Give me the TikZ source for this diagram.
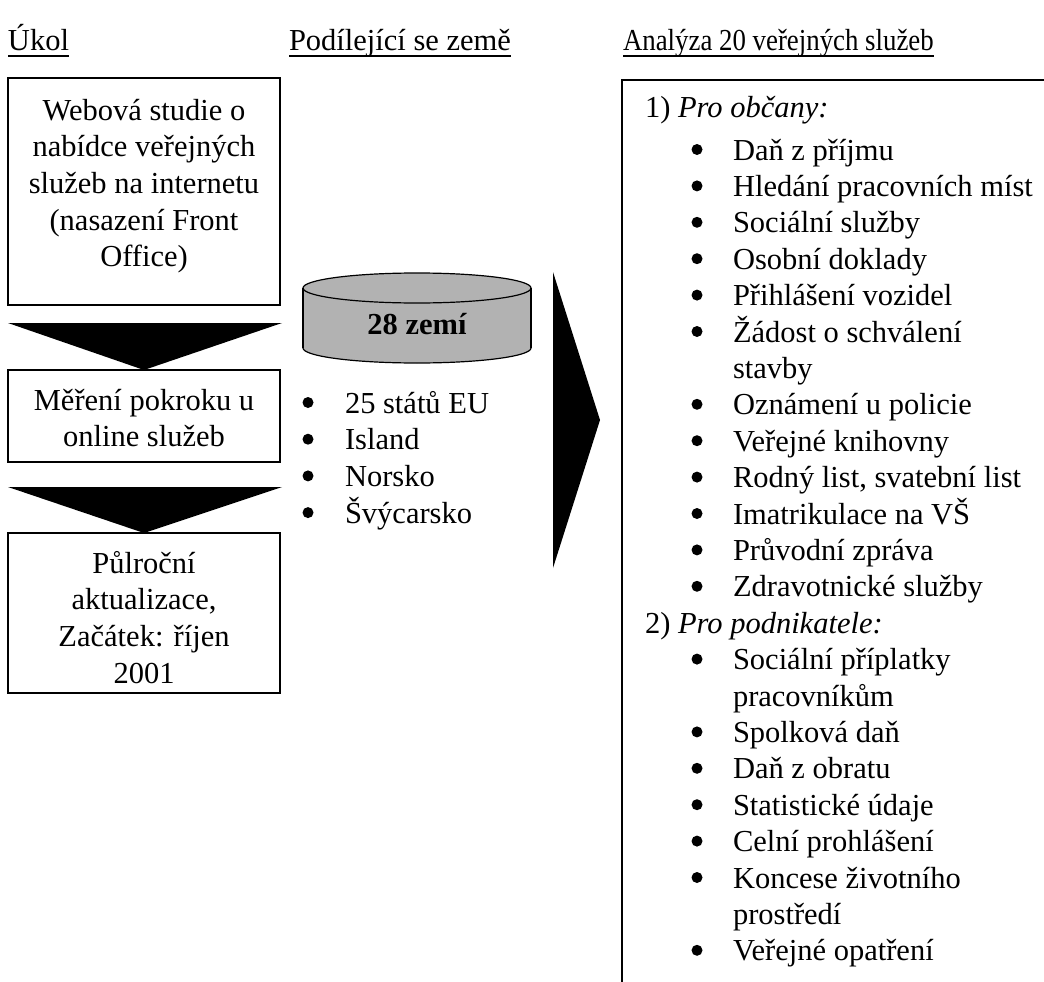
\documentclass[tikz,border=0pt]{standalone}
\usepackage{fontspec}
\setmainfont{Liberation Serif}
\begin{document}
\begin{tikzpicture}[x=1pt,y=-1pt,
  txt/.style={font=\fontsize{30.5}{36.5}\selectfont, inner sep=0pt, outer sep=0pt},
  hdr/.style={txt, anchor=base west},
  uline/.style={line width=1.6pt},
  stepbox/.style={draw, line width=1.6pt, minimum width=272pt, inner sep=0pt},
  pointer/.style={fill=black},
  dot/.style={fill=black},
  cylfill/.style={fill=black!30},
  frame/.style={line width=1.6pt}]
\useasboundingbox (0,0) rectangle (1044,982);

% column headings, underlined
\node[hdr] (h1) at (8,51) {Úkol};
\node[hdr] (h2) at (289,51) {Podílející se země};
\node[hdr] (h3) at (623,51) {\scalebox{0.88}[1]{Analýza 20 veřejných služeb}};
\foreach \h in {h1,h2,h3}
  \draw[uline] ([yshift=-5pt]\h.base west) -- ([yshift=-5pt]\h.base east);

% left column: task boxes
\node[stepbox, minimum height=227pt] (b1) at (144,191.5) {};
\node[stepbox, minimum height=92pt] (b2) at (144,416) {};
\node[stepbox, minimum height=160pt] (b3) at (144,613) {};

\foreach \t [count=\i] in {Webová studie o, nabídce veřejných, služeb na internetu, {(nasazení Front}, {Office)}}
  \node[txt, anchor=base] (w\i) at (144,{120+36.7*(\i-1)}) {\t};
\foreach \t [count=\i] in {Měření pokroku u, online služeb}
  \node[txt, anchor=base] (m\i) at (144,{410+36.7*(\i-1)}) {\t};
\foreach \t [count=\i] in {Půlroční, {aktualizace,}, Začátek: říjen, 2001}
  \node[txt, anchor=base] (p\i) at (144,{573+36.7*(\i-1)}) {\t};

% downward pointers between the boxes
\fill[pointer] (8,323) -- (282,323) -- (144,370) -- cycle;
\fill[pointer] (8,487) -- (282,487) -- (144,533) -- cycle;

% middle column: drum with the country count
\fill[cylfill] (303,288) rectangle (531,348);
\fill[cylfill] (417,348) ellipse [x radius=114, y radius=15];
\filldraw[cylfill, draw=black, line width=1.2pt] (417,288) ellipse [x radius=114, y radius=15];
\draw[line width=1.2pt] (303,288) -- (303,348);
\draw[line width=1.2pt] (531,288) -- (531,348);
\begin{scope}
  \clip (290,348) rectangle (545,372);
  \draw[line width=1.2pt] (417,348) ellipse [x radius=114, y radius=15];
\end{scope}
\node[txt, anchor=base, font=\fontsize{30.5}{36.5}\selectfont\bfseries] (cnt) at (417,334) {28 zemí};

\foreach \t [count=\i] in {25 států EU, Island, Norsko, Švýcarsko} {
  \fill[dot] (308,{413+36.7*(\i-1)-10.5}) circle[radius=5.5];
  \node[txt, anchor=base west] (c\i) at (345,{413+36.7*(\i-1)}) {\t};
}

% large pointer to the service list
\fill[pointer] (553,272) -- (600,420) -- (553,568) -- cycle;

% right column: list of services
\draw[frame] (1050,80) -- (622,80) -- (622,990);
\node[txt, anchor=base west] (g1) at (645,117) {1) \textit{Pro občany:}};
\node[txt, anchor=base west] (g2) at (645,{160+36.4*13}) {2) \textit{Pro podnikatele:}};

\newcommand\svcitem[3]{%
  \fill[dot] (697,{160+36.4*#2-10.5}) circle[radius=5.5];
  \node[txt, anchor=base west] (s#1) at (733,{160+36.4*#2}) {#3};}
\newcommand\svccont[3]{%
  \node[txt, anchor=base west] (s#1) at (733,{160+36.4*#2}) {#3};}

\svcitem{a}{0}{Daň z příjmu}
\svcitem{b}{1}{Hledání pracovních míst}
\svcitem{c}{2}{Sociální služby}
\svcitem{d}{3}{Osobní doklady}
\svcitem{e}{4}{Přihlášení vozidel}
\svcitem{f}{5}{Žádost o schválení}
\svccont{f2}{6}{stavby}
\svcitem{g}{7}{Oznámení u policie}
\svcitem{h}{8}{Veřejné knihovny}
\svcitem{i}{9}{Rodný list, svatební list}
\svcitem{j}{10}{Imatrikulace na VŠ}
\svcitem{k}{11}{Průvodní zpráva}
\svcitem{l}{12}{Zdravotnické služby}
\svcitem{m}{14}{Sociální příplatky}
\svccont{m2}{15}{pracovníkům}
\svcitem{n}{16}{Spolková daň}
\svcitem{o}{17}{Daň z obratu}
\svcitem{p}{18}{Statistické údaje}
\svcitem{q}{19}{Celní prohlášení}
\svcitem{r}{20}{Koncese životního}
\svccont{r2}{21}{prostředí}
\svcitem{s}{22}{Veřejné opatření}
\end{tikzpicture}
\end{document}
